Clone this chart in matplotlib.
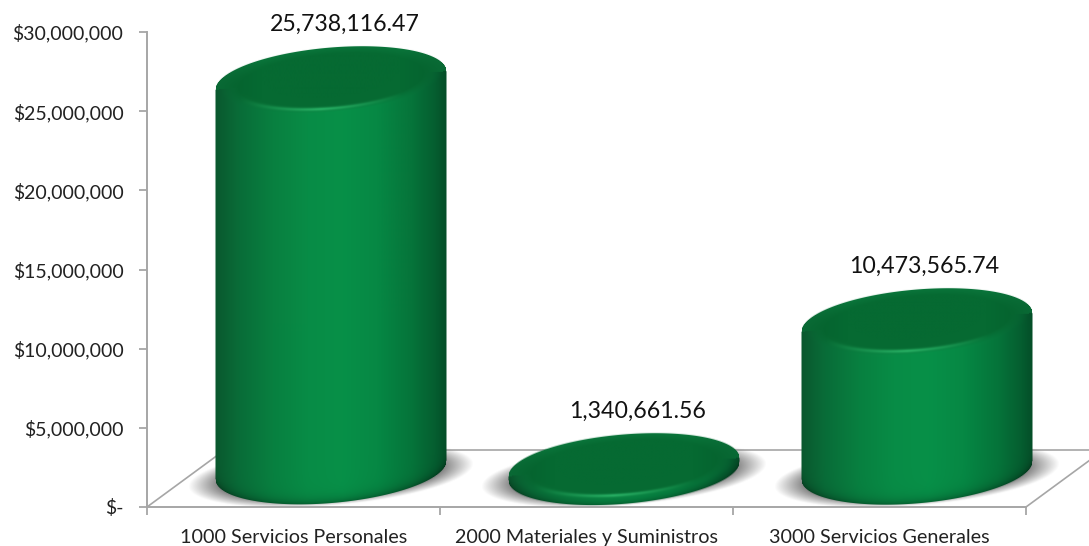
#!/usr/bin/env python3
import numpy as np
import matplotlib
matplotlib.use("Agg")
import matplotlib.pyplot as plt

categories = ["1000 Servicios Personales", "2000 Materiales y Suministros", "3000 Servicios Generales"]
values = [25738116.47, 1340661.56, 10473565.74]
y_ticks = [0, 5000000, 10000000, 15000000, 20000000, 25000000, 30000000]
y_tick_labels = ["$-", "$5,000,000", "$10,000,000", "$15,000,000", "$20,000,000", "$25,000,000", "$30,000,000"]

plt.rcParams["font.family"] = ["Lato", "DejaVu Sans"]

W, H = 1089, 546
AX_L, AX_R, AX_T, AX_B = 147, 1026, 32, 507
PX_PER_CAT = (AX_R - AX_L) / 3
PX_PER_USD = (AX_B - AX_T) / 30000000

BAR_SHIFT = 0.127        # 3d depth moves the bars right of the category centre
BASE_Y = 2270000         # floor level under the bars
TOP_PAD = 1200000
SEMI_A, SEMI_B, TILT = 116, 33, 0.08
LABEL_PAD = 4720000
LABEL_SHIFT = [0.048, 0.048, 0.027]
GREY = "#a6a6a6"


def body_colour(xn):
    stops = [-1, -0.8, -0.5, -0.2, 0.1, 0.4, 0.7, 0.9, 1]
    r = np.interp(xn, stops, [10, 9, 8, 8, 7, 6, 6, 5, 5])
    g = np.interp(xn, stops, [88, 108, 128, 140, 144, 136, 116, 94, 78])
    b = np.interp(xn, stops, [46, 56, 64, 70, 72, 68, 58, 48, 40])
    return np.stack([r, g, b], axis=-1) / 255


def cylinder_image(h):
    a, b, k = SEMI_A, SEMI_B, TILT
    ys = np.arange(h + b + 14, -b - 14, -1.0)
    xs = np.arange(-a - 2, a + 3, 1.0)
    X, Y = np.meshgrid(xs, ys)
    xn = np.clip(X / a, -1, 1)
    half = b * np.sqrt(1 - xn ** 2)
    lower = k * X - half
    upper = h + k * X + half
    alpha = np.clip(a - np.abs(X) + 0.5, 0, 1) * np.clip(Y - lower + 0.5, 0, 1) * np.clip(upper - Y + 0.5, 0, 1)

    rgb = body_colour(xn)
    # rounded lower edge
    rgb *= (1 - 0.32 * np.exp(-np.clip(Y - lower, 0, None) / 5))[..., None]

    # cap
    v = (Y - h - k * X) / b
    r = np.sqrt((X / a) ** 2 + v ** 2)
    back = v > 0
    inner = np.array([6, 106, 50]) / 255
    rim = np.array([10, 116, 58]) / 255
    light = np.array([40, 176, 100]) / 255

    edge_dark = np.clip(np.abs(xn) - 0.6, 0, 1)[..., None]
    cap = inner + (rim - inner) * np.clip((r - 0.8) / 0.18, 0, 1)[..., None]
    cap = cap * (1 - 0.25 * edge_dark)
    front_mix = np.clip((r - 0.8) / 0.16, 0, 1)[..., None]
    front = cap * (1 - front_mix) + rgb * front_mix
    glow = (np.exp(-((r - 0.85) / 0.05) ** 2) * np.clip(1 - np.abs(X + 10) / (a * 0.7), 0, 1))[..., None]
    front = front * (1 - glow) + light * glow
    top = np.where(back[..., None], cap, front)
    rgb = np.where((r < 1.0)[..., None] | (Y > h + k * X)[..., None], top, rgb)

    rgba = np.dstack([rgb, alpha])
    return rgba, xs[0], xs[-1], ys[-1], ys[0]


def shadow_image():
    a, b, k = 143, 31, 0.08
    ys = np.arange(b + 14, -b - 14, -1.0)
    xs = np.arange(-a - 2, a + 3, 1.0)
    X, Y = np.meshgrid(xs, ys)
    r = np.sqrt((X / a) ** 2 + ((Y - k * X) / b) ** 2)
    rgba = np.zeros(X.shape + (4,))
    rgba[..., :3] = 0.47
    rgba[..., 3] = np.clip((1 - r) / 0.22, 0, 1) * 0.95
    return rgba, xs[0], xs[-1], ys[-1], ys[0]


fig = plt.figure(figsize=(W / 100, H / 100), dpi=100)
ax = fig.add_axes([AX_L / W, 1 - AX_B / H, (AX_R - AX_L) / W, (AX_B - AX_T) / H])
ax.patch.set_visible(False)
x = np.arange(len(categories))


def place(image, cx, cy, x0, x1, y0, y1, z):
    # image extents come in pixels around a data anchor
    im = ax.imshow(image, origin="upper", aspect="auto", interpolation="bilinear", zorder=z,
                   extent=[cx + x0 / PX_PER_CAT, cx + x1 / PX_PER_CAT, cy + y0 / PX_PER_USD, cy + y1 / PX_PER_USD])
    im.set_clip_box(fig.bbox)


# floor
depth_x, depth_y = 0.265, 3600000
ax.plot([-0.5, -0.5 + depth_x], [0, depth_y], color=GREY, lw=1.2, clip_on=False, zorder=1)
ax.plot([2.5, 2.5 + depth_x], [0, depth_y], color=GREY, lw=1.2, clip_on=False, zorder=1)
ax.plot([-0.5 + depth_x, 2.5 + depth_x], [depth_y, depth_y], color=GREY, lw=1.2, clip_on=False, zorder=1)

for i, v in enumerate(values):
    cx = x[i] + BAR_SHIFT
    top_y = v + TOP_PAD
    base_y = min(BASE_Y, top_y)
    img, x0, x1, y0, y1 = shadow_image()
    place(img, cx + 0.0, base_y - 250000, x0, x1, y0, y1, 2)
    img, x0, x1, y0, y1 = cylinder_image((top_y - base_y) * PX_PER_USD)
    place(img, cx, base_y, x0, x1, y0, y1, 3)
    ax.text(cx + LABEL_SHIFT[i], v + LABEL_PAD, f"{v:,.2f}", ha="center", va="center",
            fontsize=16.7, color="#111111", zorder=4, clip_on=False)

ax.set_xlim(-0.5, 2.5)
ax.set_ylim(0, 30000000)
ax.set_yticks(y_ticks)
ax.set_yticklabels(y_tick_labels, fontsize=14, color="#222222")
ax.set_xticks([-0.5, 0.5, 1.5, 2.5])
ax.set_xticklabels([])
ax.set_xticks(x, minor=True)
ax.set_xticklabels(categories, minor=True, fontsize=14.2, color="#222222")
ax.tick_params(axis="x", which="minor", length=0, pad=16)
ax.tick_params(axis="x", which="major", length=6, width=1.3, color=GREY)
ax.tick_params(axis="y", length=6, width=1.3, color=GREY, pad=11)
for s in ["top", "right"]:
    ax.spines[s].set_visible(False)
for s in ["left", "bottom"]:
    ax.spines[s].set_color(GREY)
    ax.spines[s].set_linewidth(1.4)

fig.savefig("out.png", dpi=100)
